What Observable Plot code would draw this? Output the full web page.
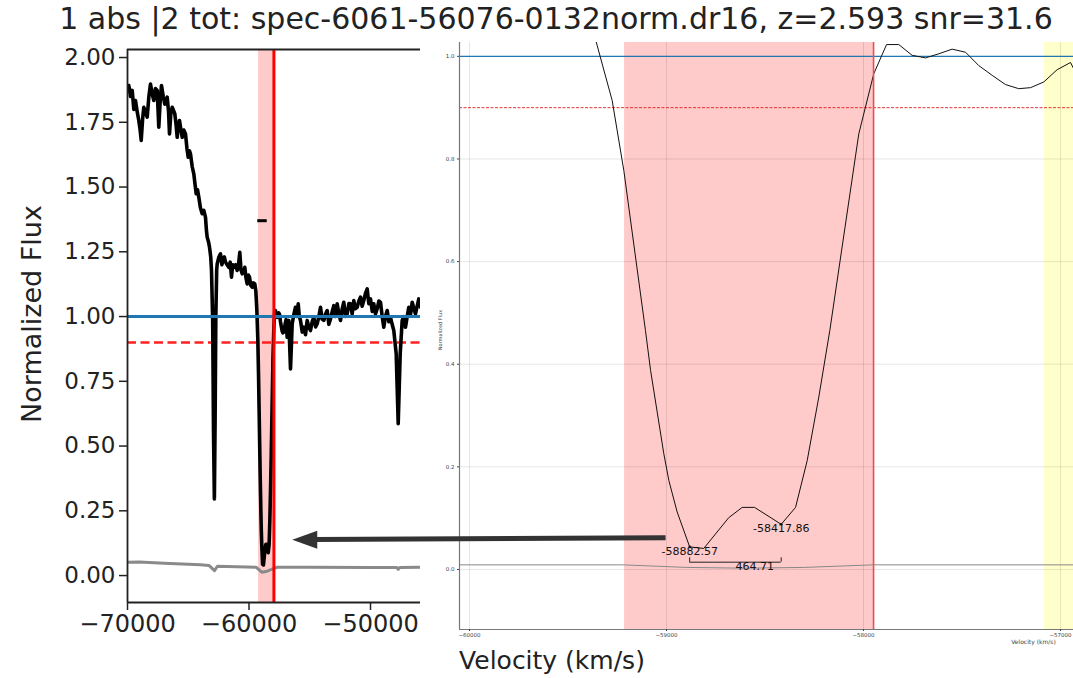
<!DOCTYPE html>
<html>
<head>
<meta charset="utf-8">
<script src="https://cdn.jsdelivr.net/npm/d3@7"></script>
<script src="https://cdn.jsdelivr.net/npm/@observablehq/plot@0.6"></script>
<style>
  html, body { margin: 0; padding: 0; background: #fff; }
  #page { position: relative; width: 1073px; height: 678px; overflow: hidden; background: #fff; font-family: "DejaVu Sans", sans-serif; }
  #page svg { position: absolute; left: 0; top: 0; }
  #title { position: absolute; left: 0; width: 1112px; top: 1px; text-align: center; font-size: 30px; color: #222; white-space: nowrap; z-index: 5; }
  #xlabel { position: absolute; left: 352px; width: 400px; top: 646px; text-align: center; font-size: 25px; color: #222; white-space: nowrap; z-index: 5; }
</style>
</head>
<body>
<div id="page">
  <div id="title">1 abs |2 tot: spec-6061-56076-0132norm.dr16, z=2.593 snr=31.6</div>
  <div id="xlabel">Velocity (km/s)</div>
</div>
<script>
// ---------- data ----------
const velocity = [
  -69990,-69893,-69750,-69613,-69480,-69342,-69200,-69070,-68960,-68872,-68760,-68658,-68520,-68379,-68240,-68107,
  -67970,-67835,-67700,-67556,-67424,-67300,-67202,-67060,-66930,-66733,-66620,-66543,-66440,-66321,-66107,-66000,
  -65910,-65820,-65720,-65600,-65498,-65370,-65227,-65110,-65004,-64900,-64815,-64680,-64544,-64440,-64346,-64240,
  -64132,-64000,-63852,-63720,-63581,-63500,-63441,-63340,-63251,-63150,-63087,-62990,-62920,-62850,-62790,-62730,
  -62660,-62618,-62480,-62346,-62230,-62124,-62030,-61935,-61800,-61663,-61550,-61441,-61340,-61252,-61100,-60972,
  -60860,-60758,-60660,-60560,-60450,-60346,-60250,-60149,-60050,-59959,-59850,-59737,-59630,-59523,-59440,
  -59357,-59276,-59217,-59107,-59081,-59014,-58988,-58946,-58882.57,-58811,-58684,-58616,-58553,-58417.86,-58345,
  -58286,-58227,-58171,-58024,-57948,-57883,-57821,-57753,-57685,-57618,-57550,-57482,-57415,-57347,-57279,-57212,
  -57152,-57085,-57017,-56949,
  -56860,-56725,-56585,-56445,-56300,-56174,-56060,-55951,-55860,-55762,-55620,-55491,-55350,-55211,-55080,-54939,
  -54800,-54668,-54520,-54388,-54250,-54116,-53980,-53845,-53700,-53565,-53430,-53293,-53150,-53022,-52880,-52742,
  -52600,-52470,-52330,-52199,-52060,-51919,-51780,-51647,-51510,-51376,-51240,-51096,-50960,-50824,-50690,-50553,
  -50410,-50273,-50140,-50001,-49860,-49730,-49590,-49450,-49310,-49178,-49040,-48907,-48770,-48627,-48490,-48355,
  -48220,-48084,-47886,-47721,-47557,-47392,-47250,-47121,-46980,-46849,-46700,-46569,-46430,-46298,-46160,-46026,
  -45880,-45746
];
const flux = [
  1.880,1.892,1.850,1.873,1.800,1.834,1.790,1.757,1.720,1.680,1.760,1.808,1.790,1.770,1.850,1.898,
  1.860,1.834,1.880,1.873,1.731,1.840,1.892,1.850,1.820,1.847,1.790,1.705,1.780,1.808,1.783,1.740,
  1.692,1.740,1.757,1.720,1.692,1.720,1.705,1.650,1.615,1.640,1.628,1.580,1.551,1.510,1.474,1.490,
  1.461,1.420,1.397,1.410,1.383,1.330,1.306,1.290,1.268,1.230,1.178,0.985,0.550,0.296,0.600,1.000,
  1.180,1.203,1.230,1.242,1.200,1.223,1.230,1.210,1.200,1.190,1.210,1.152,1.200,1.190,1.200,1.178,
  1.200,1.248,1.180,1.165,1.170,1.190,1.150,1.126,1.160,1.152,1.120,1.113,1.130,1.126,1.100,
  1.028,0.914,0.778,0.466,0.388,0.226,0.173,0.112,0.044,0.041,0.101,0.121,0.121,0.088,0.121,
  0.212,0.336,0.466,0.849,0.966,1.023,1.023,1.002,0.997,1.005,1.014,1.008,0.982,0.963,0.945,0.937,
  0.939,0.950,0.974,0.988,
  0.920,0.985,0.798,0.972,1.010,1.036,1.000,1.049,1.000,0.985,0.940,0.959,0.930,0.985,0.960,0.946,
  0.980,0.997,0.960,0.972,1.000,1.036,0.990,0.985,1.010,1.023,0.970,0.991,1.020,1.042,1.000,1.049,
  1.010,0.985,1.030,1.055,1.000,1.010,1.050,1.049,1.010,1.062,1.030,1.036,1.060,1.075,1.040,1.062,
  1.090,1.107,1.050,1.068,1.020,1.049,1.010,1.030,1.060,1.055,1.000,0.959,1.000,1.023,0.980,0.997,
  0.970,0.946,0.856,0.586,0.856,0.985,1.000,0.959,1.000,1.036,1.010,1.055,1.030,1.010,1.040,1.068,
  1.036,1.036
];
// error spectrum as seen in each panel
const errVelocityLeft = [-70000,-69000,-67000,-66000,-64000,-63300,-62840,-62600,-61000,-59400,-58950,-58500,-58100,-57700,-55000,-50000,-47850,-47720,-47600,-45746];
const errLeft = [0.051,0.052,0.048,0.046,0.042,0.039,0.019,0.036,0.034,0.032,0.013,0.017,0.025,0.032,0.032,0.031,0.031,0.024,0.031,0.032];
const errVelocityRight = [-60051,-59220,-58900,-58600,-58300,-57950,-56934];
const errRight = [0.009,0.009,0.004,0.0025,0.004,0.009,0.009];

// continuum and threshold
const continuumLevel = [1.0];
const thresholdLevel = [0.9];
// absorption trough region
const troughStart = [-59213];
const troughEnd = [-57949];
const yellowStart = [-57081];
const yellowEnd = [-56500];
// the two minima and their separation
const minimaVelocity = [-58882.57, -58417.86];
const minimaFlux = [0.044, 0.088];
const minimaLabels = ["-58882.57", "-58417.86"];
const separationLabel = ["464.71"];
// tick values
const leftXTicks = [-70000, -60000, -50000];
const leftYTicks = [0, 0.25, 0.5, 0.75, 1.0, 1.25, 1.5, 1.75, 2.0];
const rightXTicks = [-60000, -59000, -58000, -57000];
const rightYTicks = [0, 0.2, 0.4, 0.6, 0.8, 1.0];

// ---------- tables ----------
const spectrum = velocity.map((v, i) => ({v, f: flux[i]}));
const eL = errVelocityLeft.map((v, i) => ({v, e: errLeft[i]}));
const eR = errVelocityRight.map((v, i) => ({v, e: errRight[i]}));
const troughSpan = troughStart.map((s, i) => ({s, e: troughEnd[i]}));
const yellowSpan = yellowStart.map((s, i) => ({s, e: yellowEnd[i]}));
const minima = minimaVelocity.map((v, i) => ({v, f: minimaFlux[i], label: minimaLabels[i]}));

const leftX = [-70000, -45886];
const leftY = [-0.104, 2.031];
const rightX = [-60051, -56934];
const rightY = [-0.117, 1.027];

// annotation geometry (in data units of the zoom panel)
const bracketLow = 0.0142, bracketHigh = 0.0228;
const bracket = [{x1: minimaVelocity[0], x2: minimaVelocity[1]}];
const markerLeft = [{x1: -59280, x2: -58500, y: 1.37}];
const arrowData = [{x1: -59005, y1: 0.062, x2: -60900, y2: 0.058}];
const arrowHead = {draw(ctx) { ctx.moveTo(0, 0); ctx.lineTo(25, -9); ctx.lineTo(25, 9); ctx.closePath(); }};

const fmt2 = d3.format(".2f"), fmt1 = d3.format(".1f"), fmtd = d3.format("d");

// ---------- left panel ----------
const left = Plot.plot({
  width: 420, height: 678,
  marginLeft: 127, marginRight: 0, marginTop: 49, marginBottom: 76,
  x: {domain: leftX},
  y: {domain: leftY},
  style: {fontFamily: "DejaVu Sans", background: "transparent", overflow: "visible", color: "#222"},
  marks: [
    Plot.rect(troughSpan, {x1: "s", x2: "e", fill: "#ffcaca"}),
    Plot.ruleY(thresholdLevel, {stroke: "#ff2020", strokeWidth: 2.6, strokeDasharray: "9,4.5"}),
    Plot.line(eL, {x: "v", y: "e", stroke: "#8a8a8a", strokeWidth: 3, clip: true}),
    Plot.line(spectrum, {x: "v", y: "f", stroke: "#000", strokeWidth: 3.6, strokeLinejoin: "round", clip: true}),
    Plot.ruleY(continuumLevel, {stroke: "#1f77b4", strokeWidth: 3}),
    Plot.ruleX(troughEnd, {stroke: "#ff0000", strokeWidth: 3}),
    Plot.ruleY(markerLeft, {x1: "x1", x2: "x2", y: "y", stroke: "#000", strokeWidth: 3}),
    Plot.ruleX([leftX[0]], {stroke: "#222", strokeWidth: 1.8}),
    Plot.ruleY([leftY[0], leftY[1]], {stroke: "#222", strokeWidth: 1.8}),
    Plot.axisY(leftYTicks, {tickSize: 8, tickPadding: 4, tickFormat: fmt2, fontSize: 23, strokeWidth: 1.5, label: null}),
    Plot.axisX(leftXTicks, {tickSize: 8, tickPadding: 4, tickFormat: fmtd, fontSize: 24, strokeWidth: 1.5, label: null}),
    Plot.text(["Normalized Flux"], {text: d => d, frameAnchor: "left", textAnchor: "middle", rotate: -90, dx: -95, dy: -12, fontSize: 27, fill: "#222"})
  ]
});

// ---------- zoom panel ----------
const right = Plot.plot({
  width: 1073, height: 678,
  marginLeft: 459, marginRight: 0, marginTop: 42, marginBottom: 49,
  x: {domain: rightX},
  y: {domain: rightY},
  style: {fontFamily: "DejaVu Sans", background: "transparent", overflow: "visible", color: "#444"},
  marks: [
    Plot.rect(troughSpan, {x1: "s", x2: "e", fill: "#ffcaca", clip: true}),
    Plot.rect(yellowSpan, {x1: "s", x2: "e", fill: "#ffffcc", clip: true}),
    Plot.ruleX(rightXTicks, {stroke: "#000", strokeOpacity: 0.1, strokeWidth: 1}),
    Plot.ruleY(rightYTicks, {stroke: "#000", strokeOpacity: 0.1, strokeWidth: 1}),
    Plot.ruleY(continuumLevel, {stroke: "#1f77b4", strokeWidth: 1.1}),
    Plot.ruleY(thresholdLevel, {stroke: "#e02020", strokeWidth: 0.9, strokeDasharray: "3,1.5"}),
    Plot.line(eR, {x: "v", y: "e", stroke: "#888", strokeWidth: 1, clip: true}),
    Plot.line(spectrum, {x: "v", y: "f", stroke: "#111", strokeWidth: 1, clip: true}),
    Plot.ruleX(troughEnd, {stroke: "#e85050", strokeWidth: 1.6}),
    Plot.dot(minima, {x: "v", y: "f", r: 1.3, fill: "#111"}),
    Plot.text(minima, {x: "v", y: "f", text: "label", lineAnchor: "top", dy: 0, fontSize: 11, fill: "#111"}),
    Plot.ruleY(bracket, {x1: "x1", x2: "x2", y: bracketLow, stroke: "#222", strokeWidth: 1}),
    Plot.ruleX(minimaVelocity, {y1: bracketLow, y2: bracketHigh, stroke: "#222", strokeWidth: 1}),
    Plot.text(separationLabel, {x: (minimaVelocity[0] + minimaVelocity[1]) / 2, y: bracketLow, text: d => d, textAnchor: "start", lineAnchor: "top", fontSize: 11, fill: "#111"}),
    Plot.ruleX([rightX[0]], {stroke: "#777", strokeWidth: 1.2}),
    Plot.ruleY([rightY[0]], {stroke: "#777", strokeWidth: 1.2}),
    Plot.axisY(rightYTicks, {tickSize: 2, tickPadding: 3, tickFormat: fmt1, fontSize: 5.5, label: null}),
    Plot.axisX(rightXTicks, {tickSize: 2, tickPadding: 2, tickFormat: fmtd, fontSize: 5.5, label: null}),
    Plot.text(["Normalized Flux"], {text: d => d, frameAnchor: "left", textAnchor: "middle", rotate: -90, dx: -19, dy: -6, fontSize: 5, fill: "#444"}),
    Plot.text(["Velocity (km/s)"], {text: d => d, frameAnchor: "bottom-right", textAnchor: "middle", dx: -40, dy: 14, fontSize: 6, fill: "#444"}),
    Plot.arrow(arrowData, {x1: "x1", y1: "y1", x2: "x2", y2: "y2", insetEnd: 22, headLength: 0, stroke: "#333", strokeWidth: 5, strokeLinecap: "butt"}),
    Plot.dot(arrowData, {x: "x2", y: "y2", symbol: arrowHead, fill: "#333", stroke: "none"})
  ]
});

const page = document.getElementById("page");
page.appendChild(left);
page.appendChild(right);
</script>
</body>
</html>
